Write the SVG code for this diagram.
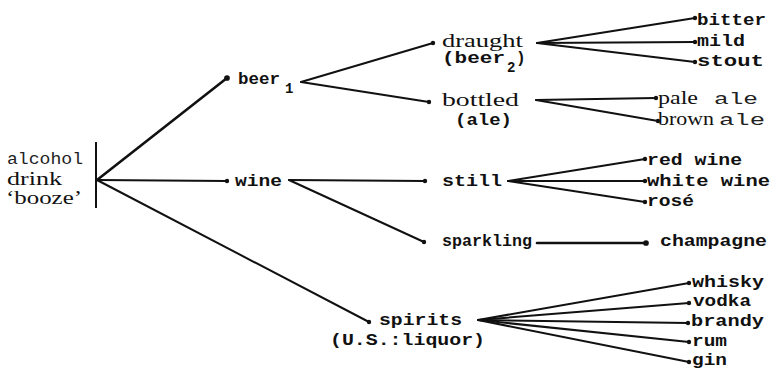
<svg xmlns="http://www.w3.org/2000/svg" width="771" height="373" viewBox="0 0 771 373">
  <defs>
    <style>
      .tw { font-family: "Liberation Mono", "DejaVu Sans Mono", monospace; font-weight: bold; font-size: 16px; fill: #111; }
      .lt { font-family: "Liberation Mono", "DejaVu Sans Mono", monospace; font-size: 16px; fill: #222; }
      .sf { font-family: "Liberation Serif", "DejaVu Serif", serif; font-size: 19px; fill: #111; }
      .sub { font-size: 14px; }
      .edge { stroke: #111; stroke-width: 2; fill: none; stroke-linecap: round; marker-end: url(#dot); }
      .edge.heavy { stroke-width: 2.6; }
      .bar { stroke: #111; stroke-width: 2; }
    </style>
    <marker id="dot" viewBox="0 0 6 6" refX="3" refY="3" markerWidth="3" markerHeight="3" markerUnits="strokeWidth">
      <circle cx="3" cy="3" r="2.2" fill="#111"/>
    </marker>
  </defs>
  <rect width="771" height="373" fill="#fff"/>

  <!-- connectors -->
  <g id="connectors">
    <line class="edge heavy" x1="97" y1="180" x2="227" y2="78"/>
    <line class="edge" x1="97" y1="180" x2="227" y2="181"/>
    <line class="edge" x1="97" y1="180" x2="369" y2="322"/>

    <line class="edge" x1="301" y1="82" x2="433" y2="43"/>
    <line class="edge" x1="301" y1="82" x2="429" y2="102"/>

    <line class="edge" x1="537" y1="43" x2="695" y2="18"/>
    <line class="edge" x1="537" y1="43" x2="695" y2="42"/>
    <line class="edge" x1="537" y1="43" x2="695" y2="62"/>

    <line class="edge" x1="536" y1="100" x2="656" y2="98"/>
    <line class="edge" x1="536" y1="100" x2="658" y2="121"/>

    <line class="edge" x1="289" y1="180" x2="425" y2="181"/>
    <line class="edge" x1="289" y1="180" x2="424" y2="242"/>

    <line class="edge" x1="508" y1="181" x2="645" y2="159"/>
    <line class="edge" x1="508" y1="181" x2="645" y2="181"/>
    <line class="edge" x1="508" y1="181" x2="645" y2="202"/>

    <line class="edge heavy" x1="537" y1="243" x2="646" y2="243"/>

    <line class="edge" x1="478" y1="320" x2="689" y2="283"/>
    <line class="edge" x1="478" y1="320" x2="689" y2="303"/>
    <line class="edge" x1="478" y1="320" x2="688" y2="323"/>
    <line class="edge" x1="478" y1="320" x2="689" y2="342"/>
    <line class="edge" x1="478" y1="320" x2="689" y2="362"/>
  </g>

  <!-- root: alcohol / drink / booze -->
  <g id="root">
    <line class="bar" x1="96" y1="142" x2="96" y2="208"/>
    <text class="lt" x="7" y="164" textLength="76" lengthAdjust="spacingAndGlyphs">alcohol</text>
    <text class="sf" x="7" y="185" textLength="55" lengthAdjust="spacingAndGlyphs" font-size="20">drink</text>
    <text class="sf" x="6" y="204" textLength="76" lengthAdjust="spacingAndGlyphs" font-size="19">‘booze’</text>
  </g>

  <g id="beer1">
    <text class="tw" x="238" y="84" textLength="42" lengthAdjust="spacingAndGlyphs">beer</text>
    <text class="tw sub" x="285" y="93">1</text>
  </g>

  <g id="wine">
    <text class="tw" x="235" y="186" textLength="47" lengthAdjust="spacingAndGlyphs">wine</text>
  </g>

  <g id="spirits">
    <text class="tw" x="379" y="325" textLength="83" lengthAdjust="spacingAndGlyphs">spirits</text>
    <text class="tw" x="330" y="345" textLength="155" lengthAdjust="spacingAndGlyphs">(U.S.:liquor)</text>
  </g>

  <g id="draught">
    <text class="sf" x="442" y="47" textLength="81" lengthAdjust="spacingAndGlyphs">draught</text>
    <text class="tw" x="442" y="63" textLength="63" lengthAdjust="spacingAndGlyphs">(beer</text>
    <text class="tw sub" x="507" y="72">2</text>
    <text class="tw" x="516" y="63">)</text>
  </g>

  <g id="bottled">
    <text class="sf" x="442" y="106" textLength="77" lengthAdjust="spacingAndGlyphs">bottled</text>
    <text class="tw" x="455" y="125" textLength="57" lengthAdjust="spacingAndGlyphs">(ale)</text>
  </g>

  <g id="still">
    <text class="tw" x="442" y="186" textLength="60" lengthAdjust="spacingAndGlyphs">still</text>
  </g>

  <g id="sparkling">
    <text class="tw" x="442" y="246" textLength="90" lengthAdjust="spacingAndGlyphs">sparkling</text>
  </g>

  <g id="bitter"><text class="tw" x="697" y="25" textLength="69" lengthAdjust="spacingAndGlyphs">bitter</text></g>
  <g id="mild"><text class="tw" x="697" y="46" textLength="48" lengthAdjust="spacingAndGlyphs">mild</text></g>
  <g id="stout"><text class="tw" x="697" y="66" textLength="67" lengthAdjust="spacingAndGlyphs">stout</text></g>

  <g id="pale-ale">
    <text class="sf" x="658" y="104" textLength="40" lengthAdjust="spacingAndGlyphs">pale</text>
    <text class="lt" x="714" y="104" textLength="44" lengthAdjust="spacingAndGlyphs">ale</text>
  </g>
  <g id="brown-ale">
    <text class="sf" x="658" y="125" textLength="56" lengthAdjust="spacingAndGlyphs">brown</text>
    <text class="lt" x="719" y="125" textLength="46" lengthAdjust="spacingAndGlyphs">ale</text>
  </g>

  <g id="red-wine"><text class="tw" x="647" y="165" textLength="95" lengthAdjust="spacingAndGlyphs">red wine</text></g>
  <g id="white-wine"><text class="tw" x="647" y="186" textLength="123" lengthAdjust="spacingAndGlyphs">white wine</text></g>
  <g id="rose"><text class="tw" x="647" y="206" textLength="47" lengthAdjust="spacingAndGlyphs">rosé</text></g>

  <g id="champagne"><text class="tw" x="660" y="246" textLength="107" lengthAdjust="spacingAndGlyphs">champagne</text></g>

  <g id="whisky"><text class="tw" x="692" y="287" textLength="72" lengthAdjust="spacingAndGlyphs">whisky</text></g>
  <g id="vodka"><text class="tw" x="693" y="306" textLength="58" lengthAdjust="spacingAndGlyphs">vodka</text></g>
  <g id="brandy"><text class="tw" x="691" y="326" textLength="73" lengthAdjust="spacingAndGlyphs">brandy</text></g>
  <g id="rum"><text class="tw" x="692" y="346" textLength="35" lengthAdjust="spacingAndGlyphs">rum</text></g>
  <g id="gin"><text class="tw" x="692" y="365" textLength="35" lengthAdjust="spacingAndGlyphs">gin</text></g>
</svg>
